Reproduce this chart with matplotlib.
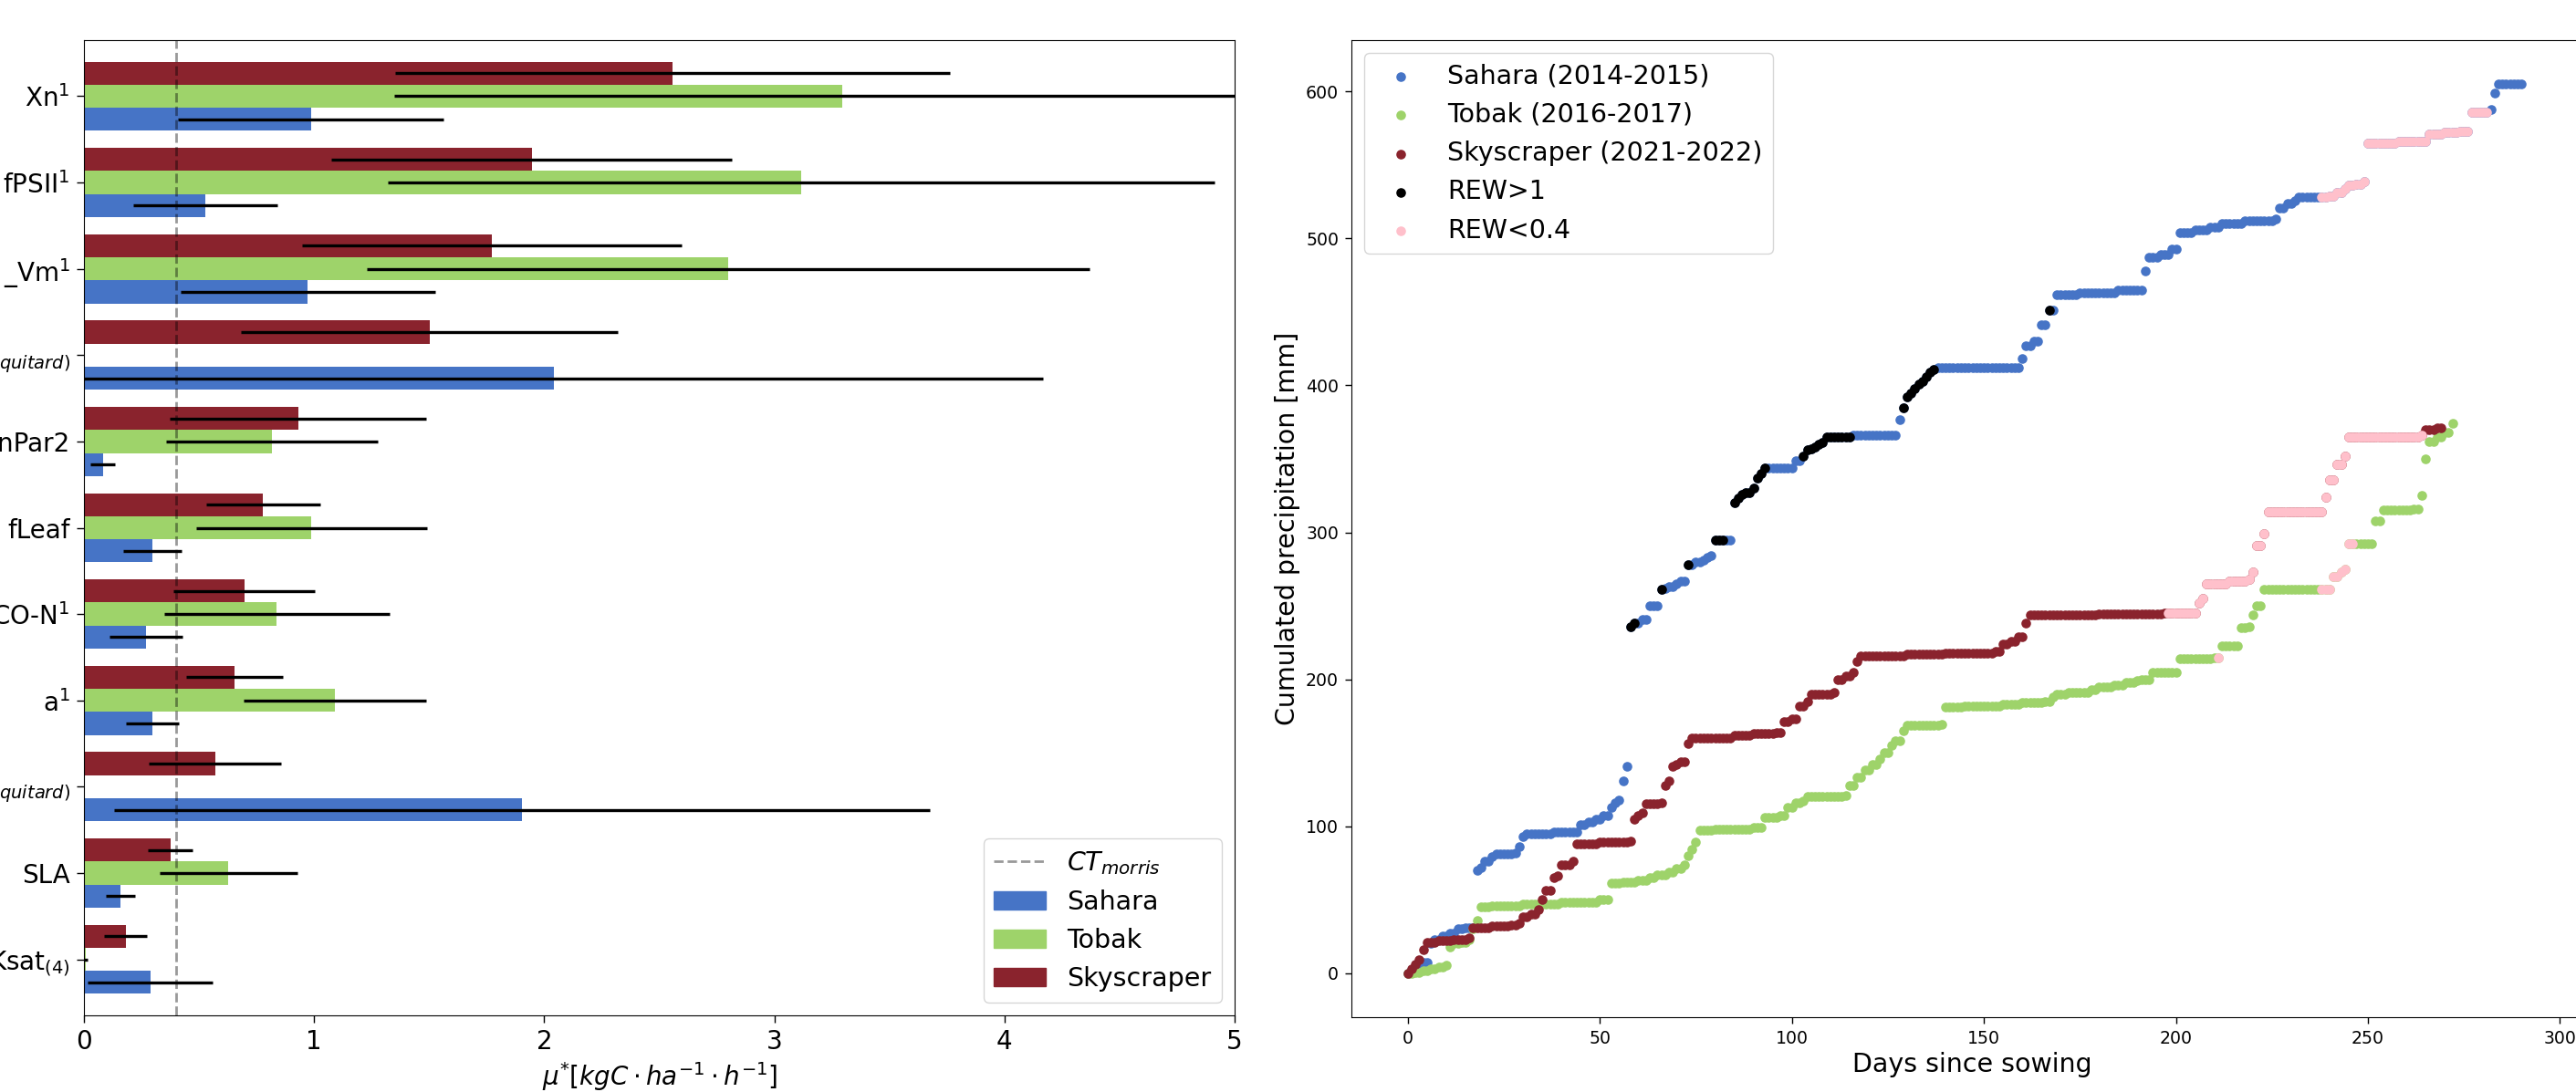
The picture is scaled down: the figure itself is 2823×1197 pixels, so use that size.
import numpy as np
import matplotlib
matplotlib.use("Agg")
import matplotlib.pyplot as plt
from matplotlib.patches import Patch
from matplotlib.lines import Line2D

# ---------------- Left panel data (listed top -> bottom as displayed) ----------------
parameters = ["Xn$^1$", "fPSII$^1$", "_Vm$^1$", "Ksat$_{(aquitard)}$", "ExtinctionPar2",
              "fLeaf", "RUBISCO-N$^1$", "a$^1$", "n$_{(aquitard)}$", "SLA", "Ksat$_{(4)}$"]
sahara_mu = [0.986, 0.529, 0.973, 2.041, 0.082, 0.299, 0.270, 0.299, 1.903, 0.158, 0.289]
sahara_sigma = [0.576, 0.313, 0.554, 2.127, 0.053, 0.127, 0.157, 0.115, 1.772, 0.064, 0.272]
tobak_mu = [3.294, 3.116, 2.801, 0.0, 0.815, 0.989, 0.838, 1.091, 0.0, 0.628, 0.008]
tobak_sigma = [1.946, 1.797, 1.570, 0.0, 0.460, 0.501, 0.490, 0.396, 0.0, 0.298, 0.008]
sky_mu = [2.558, 1.946, 1.772, 1.502, 0.930, 0.779, 0.697, 0.654, 0.569, 0.375, 0.181]
sky_sigma = [1.205, 0.870, 0.825, 0.819, 0.556, 0.247, 0.308, 0.209, 0.286, 0.096, 0.092]
ct_morris = 0.4

# ---------------- Right panel data: cumulated precipitation knots (day, mm) ----------------
sahara_knot_day = [0, 1, 3, 4, 6, 7, 9, 11, 13, 15, 18, 19, 20, 22, 23, 28, 29, 30, 31, 38, 45, 47, 49, 51,
                   53, 54, 55, 56, 57, 58, 59, 61, 63, 66, 67, 68, 70, 71, 73, 75, 77, 78, 79, 80, 85, 86,
                   87, 88, 90, 91, 92, 93, 101, 103, 104, 105, 106, 107, 108, 109, 116, 128, 129, 130, 131,
                   132, 133, 134, 135, 136, 137, 138, 160, 161, 163, 165, 167, 169, 175, 185, 192, 193, 196,
                   199, 201, 205, 209, 212, 218, 226, 227, 229, 231, 232, 240, 242, 244, 245, 247, 249, 250,
                   258, 266, 270, 274, 277, 282, 283, 284]
sahara_knot_mm = [0, 2, 5, 7, 20, 23, 25, 27, 30, 31, 70, 72, 76, 79, 81, 82, 86, 93, 95, 96, 101, 103, 105,
                  107, 113, 116, 118, 131, 141, 236, 238, 241, 250, 261, 262, 263, 265, 267, 278, 280, 281,
                  283, 284, 295, 320, 323, 326, 327, 330, 337, 340, 344, 349, 352, 356, 357, 358, 360, 361,
                  365, 366, 377, 385, 392, 395, 398, 401, 403, 406, 409, 411, 412, 418, 427, 430, 441, 451,
                  462, 463, 465, 478, 487, 489, 493, 504, 506, 508, 510, 512, 513, 521, 524, 526, 528, 529,
                  531, 534, 536, 537, 539, 565, 566, 571, 572, 573, 586, 588, 599, 605]
sahara_last_day = 290
sahara_wet_days = [(58, 59), (66, 66), (73, 73), (80, 82), (85, 93), (103, 115), (129, 137), (167, 167)]
sahara_dry_days = [(238, 281)]

tobak_knot_day = [0, 2, 4, 6, 8, 10, 11, 12, 14, 16, 17, 18, 19, 22, 30, 40, 50, 53, 56, 60, 63, 65, 68, 70,
                  72, 73, 74, 75, 76, 80, 90, 93, 97, 99, 101, 103, 104, 110, 114, 115, 117, 119, 121, 123,
                  124, 126, 127, 129, 130, 139, 140, 145, 155, 160, 166, 168, 169, 172, 178, 180, 184, 187,
                  190, 191, 194, 201, 210, 212, 217, 219, 220, 221, 223, 241, 243, 244, 245, 252, 254, 262,
                  264, 265, 266, 268, 270, 272]
tobak_knot_mm = [0, 0.5, 1.5, 3, 4, 5.5, 18, 20, 21, 23, 30, 36, 45, 46, 47, 48, 50, 61, 62, 63, 65, 67, 69,
                 71, 74, 80, 84, 89, 97, 98, 99, 106, 107, 113, 116, 117, 120, 120.5, 121, 128, 133, 138, 142,
                 146, 150, 155, 158, 165, 169, 169.5, 181, 182, 183, 184, 185, 188, 190, 191, 193, 195, 196,
                 198, 199, 200, 205, 214, 214.5, 223, 235, 236, 244, 250, 261, 270, 273, 275, 292, 308, 315,
                 316, 325, 350, 362, 365, 368, 374]
tobak_last_day = 272
tobak_wet_days = []
tobak_dry_days = [(211, 211), (238, 246)]

sky_knot_day = [0, 1, 2, 3, 4, 5, 8, 12, 16, 17, 22, 27, 29, 30, 32, 34, 35, 36, 38, 39, 40, 43, 44, 50, 58,
                59, 60, 61, 62, 66, 67, 68, 69, 70, 71, 73, 74, 85, 90, 96, 98, 100, 102, 104, 105, 111,
                112, 114, 116, 117, 118, 130, 140, 153, 155, 157, 159, 161, 162, 180, 197, 206, 207, 208,
                214, 219, 220, 221, 223, 224, 239, 240, 242, 244, 245, 264, 265, 268]
sky_knot_mm = [0, 3, 6, 9, 16, 21, 22, 23, 24, 31, 32, 33, 34, 38, 40, 43, 50, 56, 65, 66, 74, 76, 88, 89,
               90, 105, 107, 109, 115, 116, 128, 131, 141, 142, 144, 156, 160, 162, 163, 164, 171, 173, 182,
               185, 190, 191, 200, 202, 205, 212, 216, 217, 218, 219, 224, 226, 229, 238, 244, 244.5, 245,
               252, 255, 265, 267, 268, 273, 291, 299, 314, 324, 336, 346, 352, 365, 366, 370, 371]
sky_last_day = 269
sky_wet_days = []
sky_dry_days = [(198, 264)]

C_SAHARA = "#4674C6"
C_TOBAK = "#9ED36A"
C_SKY = "#8A232D"

# ---------------- Figure ----------------
W, H = 2823, 1197
fig = plt.figure(figsize=(W / 100, H / 100), dpi=100)

# Left axes
ax1 = fig.add_axes([92 / W, 1 - 1113 / H, (1353 - 92) / W, (1113 - 44) / H])
n = len(parameters)
ypos = np.arange(n)[::-1]
w = 0.8 / 3
ekw = dict(ecolor="k", elinewidth=2.4, capsize=0)
ax1.barh(ypos - w, sahara_mu, height=w, xerr=sahara_sigma, color=C_SAHARA, error_kw=ekw)
ax1.barh(ypos, tobak_mu, height=w, xerr=tobak_sigma, color=C_TOBAK, error_kw=ekw)
ax1.barh(ypos + w, sky_mu, height=w, xerr=sky_sigma, color=C_SKY, error_kw=ekw)
ax1.axvline(ct_morris, color="k", alpha=0.4, ls="--", lw=2)
ax1.set_xlim(0, 5)
ax1.set_ylim(-0.65, n - 1 + 0.65)
ax1.set_yticks(ypos)
ax1.set_yticklabels(parameters)
ax1.tick_params(axis="both", labelsize=20, length=5.5, pad=5.5, width=1)
ax1.set_xlabel(r"$\mu^{*}[kgC \cdot ha^{-1} \cdot h^{-1}]$", fontsize=20, labelpad=4)
handles = [Line2D([0], [0], color="k", alpha=0.4, ls="--", lw=2),
           Patch(color=C_SAHARA), Patch(color=C_TOBAK), Patch(color=C_SKY)]
ax1.legend(handles, ["$CT_{morris}$", "Sahara", "Tobak", "Skyscraper"], loc="lower right", fontsize=20.5)

# Right axes
ax2 = fig.add_axes([1481 / W, 1 - 1115 / H, (2842 - 1481) / W, (1115 - 44) / H])


def daily(knot_day, knot_mm, last_day):
    days = np.arange(0, last_day + 1)
    idx = np.searchsorted(np.asarray(knot_day), days, side="right") - 1
    return days, np.asarray(knot_mm, dtype=float)[idx]


def mask_from(days, ranges):
    m = np.zeros(days.shape, dtype=bool)
    for a, b in ranges:
        m |= (days >= a) & (days <= b)
    return m


series = [
    (sahara_knot_day, sahara_knot_mm, sahara_last_day, sahara_wet_days, sahara_dry_days, C_SAHARA, "Sahara (2014-2015)"),
    (tobak_knot_day, tobak_knot_mm, tobak_last_day, tobak_wet_days, tobak_dry_days, C_TOBAK, "Tobak (2016-2017)"),
    (sky_knot_day, sky_knot_mm, sky_last_day, sky_wet_days, sky_dry_days, C_SKY, "Skyscraper (2021-2022)"),
]
wet_x, wet_y, dry_x, dry_y = [], [], [], []
S = 58
for kd, km, last, wet, dry, col, lab in series:
    d, c = daily(kd, km, last)
    ax2.scatter(d, c, s=S, color=col, linewidths=0, label=lab)
    mw = mask_from(d, wet)
    md = mask_from(d, dry)
    wet_x.append(d[mw]); wet_y.append(c[mw])
    dry_x.append(d[md]); dry_y.append(c[md])
ax2.scatter(np.concatenate(wet_x), np.concatenate(wet_y), s=S, color="k", linewidths=0, label="REW>1")
ax2.scatter(np.concatenate(dry_x), np.concatenate(dry_y), s=S, color="pink", linewidths=0, label="REW<0.4")
ax2.set_xlim(-14.7, 308.7)
ax2.set_ylim(-30, 635)
ax2.set_xticks([0, 50, 100, 150, 200, 250, 300])
ax2.tick_params(axis="both", labelsize=13.6, length=5, pad=5, width=1)
ax2.set_xlabel("Days since sowing", fontsize=20.5)
ax2.set_ylabel("Cumulated precipitation [mm]", fontsize=20.5)
ax2.legend(loc="upper left", fontsize=20.5)

fig.savefig("out.png", dpi=100)
